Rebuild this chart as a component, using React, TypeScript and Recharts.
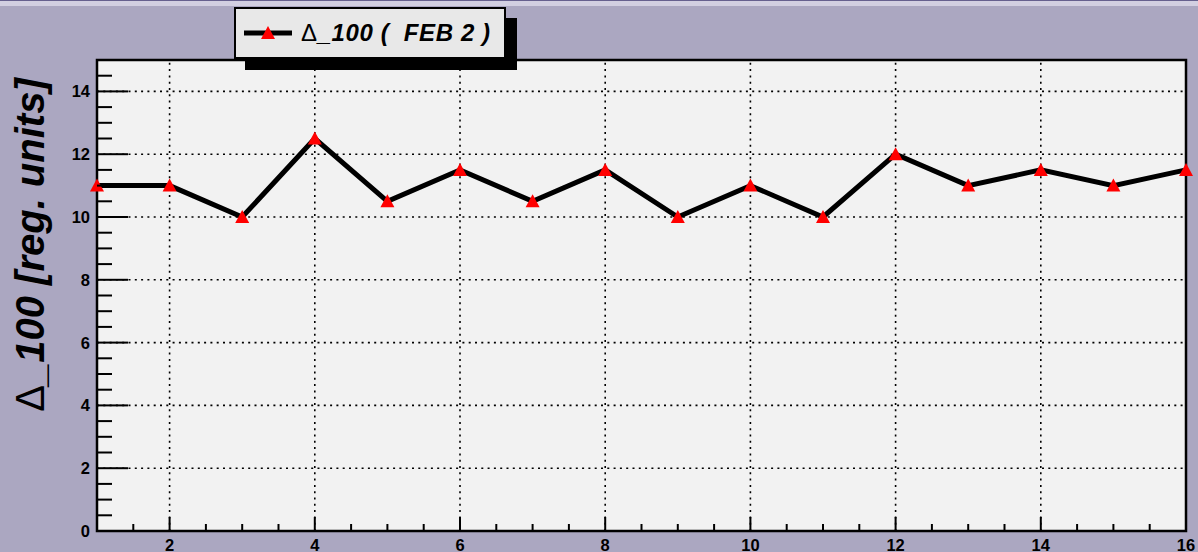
import React from 'react';
import { LineChart, Line, XAxis, YAxis, ReferenceLine, ReferenceArea, CartesianGrid } from 'recharts';

const xValues = [1, 2, 3, 4, 5, 6, 7, 8, 9, 10, 11, 12, 13, 14, 15, 16];
const deltaValues = [11, 11, 10, 12.5, 10.5, 11.5, 10.5, 11.5, 10, 11, 10, 12, 11, 11.5, 11, 11.5];
const xTicks = [1, 1.5, 2, 2.5, 3, 3.5, 4, 4.5, 5, 5.5, 6, 6.5, 7, 7.5, 8, 8.5, 9, 9.5, 10, 10.5, 11, 11.5, 12, 12.5, 13, 13.5, 14, 14.5, 15, 15.5, 16];
const yTicks = [0, 0.5, 1, 1.5, 2, 2.5, 3, 3.5, 4, 4.5, 5, 5.5, 6, 6.5, 7, 7.5, 8, 8.5, 9, 9.5, 10, 10.5, 11, 11.5, 12, 12.5, 13, 13.5, 14, 14.5, 15];
const xGrid = [2, 4, 6, 8, 10, 12, 14];
const yGrid = [2, 4, 6, 8, 10, 12, 14];
const seriesName = '_100 (  FEB 2 )';
const yTitle = '_100 [reg. units]';

const data = xValues.map((x, i) => ({ x, delta: deltaValues[i] }));

const FONT = '"Liberation Sans", Arial, Helvetica, sans-serif';
const BG = '#aba7c1';

const XTick = (props: any) => {
  const { x, y, payload } = props;
  const v = payload.value;
  const major = v % 2 === 0;
  return (
    <g>
      <line x1={x} x2={x} y1={y} y2={y - (major ? 14 : 7)} stroke="#000" strokeWidth={2} />
      {major && (
        <text x={x} y={y + 20} textAnchor="middle" fontFamily={FONT} fontWeight="bold" fontSize={16.5} fill="#000">
          {v}
        </text>
      )}
    </g>
  );
};

const YTick = (props: any) => {
  const { x, y, payload } = props;
  const v = payload.value;
  const major = v % 2 === 0;
  return (
    <g>
      <line x1={x} x2={x + (major ? 31 : 15)} y1={y} y2={y} stroke="#000" strokeWidth={2} />
      {major && v < 15 && (
        <text x={x - 7} y={y + 6} textAnchor="end" fontFamily={FONT} fontWeight="bold" fontSize={16.5} fill="#000">
          {v}
        </text>
      )}
    </g>
  );
};

const TriangleDot = (props: any) => {
  const { cx, cy, index } = props;
  if (cx == null || cy == null) return null;
  return <polygon key={index} points={`${cx},${cy - 7} ${cx - 7},${cy + 6} ${cx + 7},${cy + 6}`} fill="#ff0000" />;
};

const LegendBox = () => (
  <div
    style={{
      position: 'absolute',
      left: 234,
      top: 7,
      boxSizing: 'border-box',
      width: 272,
      height: 52,
      background: '#e8e8e8',
      border: '2px solid #000',
      boxShadow: '11px 11px 0 #000',
      display: 'flex',
      alignItems: 'center',
      fontFamily: FONT,
      zIndex: 2,
    }}
  >
    <svg width={58} height={30} style={{ marginLeft: 6, flex: 'none' }}>
      <line x1={2} x2={50} y1={15} y2={15} stroke="#000" strokeWidth={5} />
      <polygon points="26,8 19,21 33,21" fill="#ff0000" />
    </svg>
    <span style={{ fontSize: 24, whiteSpace: 'pre', color: '#000', marginLeft: 1, letterSpacing: 0.6 }}>
      <span style={{ fontWeight: 'normal' }}>Δ</span>
      <span style={{ fontWeight: 'bold', fontStyle: 'italic' }}>{seriesName}</span>
    </span>
  </div>
);

const YTitle = () => (
  <svg width={90} height={552} style={{ position: 'absolute', left: 0, top: 0, zIndex: 2 }}>
    <text transform="translate(44,245) rotate(-90)" textAnchor="middle" fontFamily={FONT} fontSize={40} fill="#000">
      <tspan fontWeight="normal">Δ</tspan>
      <tspan fontWeight="bold" fontStyle="italic">{yTitle}</tspan>
    </text>
  </svg>
);

export default function App() {
  return (
    <div style={{ position: 'absolute', left: 0, top: 0, width: 1198, height: 552, background: BG, overflow: 'hidden' }}>
      <div style={{ position: 'absolute', left: 0, top: 0, width: 1198, height: 1, background: '#66608e' }} />
      <div style={{ position: 'absolute', left: 0, top: 1, width: 1198, height: 5, background: '#d2cfe1' }} />
      <LineChart width={1198} height={552} data={data} margin={{ top: 60, right: 12, bottom: 0, left: 0 }}>
        <CartesianGrid horizontal={false} vertical={false} fill="#f2f2f2" />
        <XAxis
          dataKey="x"
          type="number"
          domain={[1, 16]}
          ticks={xTicks}
          interval={0}
          height={21}
          tickSize={0}
          tickMargin={0}
          axisLine={false}
          tickLine={false}
          tick={<XTick />}
          allowDecimals
        />
        <YAxis
          type="number"
          domain={[0, 15]}
          ticks={yTicks}
          interval={0}
          width={97}
          tickSize={0}
          tickMargin={0}
          axisLine={false}
          tickLine={false}
          tick={<YTick />}
          allowDecimals
        />
        {xGrid.map((v) => (
          <ReferenceLine key={`gx${v}`} x={v} stroke="#000" strokeWidth={1.6} strokeDasharray="2 4.3" />
        ))}
        {yGrid.map((v) => (
          <ReferenceLine key={`gy${v}`} y={v} stroke="#000" strokeWidth={1.6} strokeDasharray="2 4.3" />
        ))}
        <ReferenceArea x1={1} x2={16} y1={0} y2={15} fill="none" stroke="#000" strokeWidth={2.5} ifOverflow="visible" />
        <Line
          dataKey="delta"
          name="Δ_100 (FEB 2)"
          stroke="#000"
          strokeWidth={5}
          dot={<TriangleDot />}
          activeDot={false}
          isAnimationActive={false}
        />
      </LineChart>
      <LegendBox />
      <YTitle />
    </div>
  );
}
